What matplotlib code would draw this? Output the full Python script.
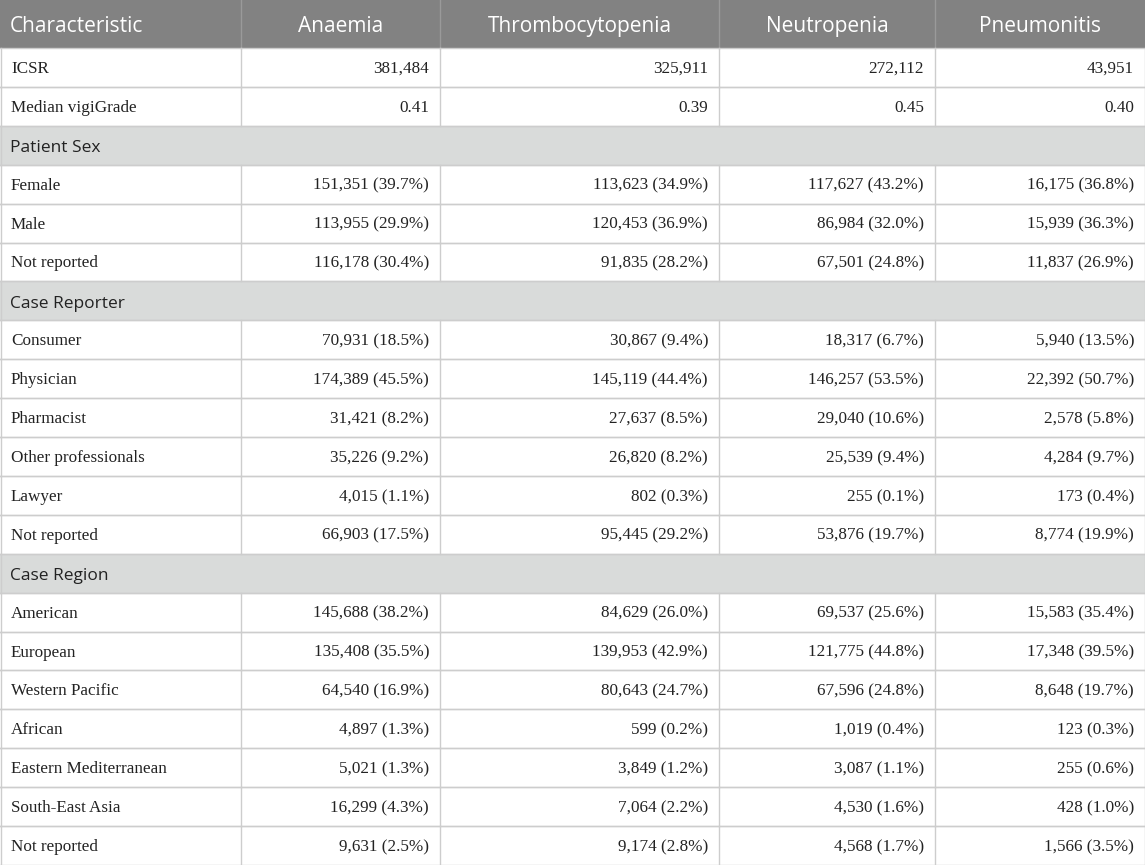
import matplotlib.pyplot as plt
from matplotlib.patches import Rectangle

columns = ["Characteristic", "Anaemia", "Thrombocytopenia", "Neutropenia", "Pneumonitis"]

# each row: label, then one cell per column; None marks a section heading
rows = [
    ("ICSR", ["381,484", "325,911", "272,112", "43,951"]),
    ("Median vigiGrade", ["0.41", "0.39", "0.45", "0.40"]),
    ("Patient Sex", None),
    ("Female", ["151,351 (39.7%)", "113,623 (34.9%)", "117,627 (43.2%)", "16,175 (36.8%)"]),
    ("Male", ["113,955 (29.9%)", "120,453 (36.9%)", "86,984 (32.0%)", "15,939 (36.3%)"]),
    ("Not reported", ["116,178 (30.4%)", "91,835 (28.2%)", "67,501 (24.8%)", "11,837 (26.9%)"]),
    ("Case Reporter", None),
    ("Consumer", ["70,931 (18.5%)", "30,867 (9.4%)", "18,317 (6.7%)", "5,940 (13.5%)"]),
    ("Physician", ["174,389 (45.5%)", "145,119 (44.4%)", "146,257 (53.5%)", "22,392 (50.7%)"]),
    ("Pharmacist", ["31,421 (8.2%)", "27,637 (8.5%)", "29,040 (10.6%)", "2,578 (5.8%)"]),
    ("Other professionals", ["35,226 (9.2%)", "26,820 (8.2%)", "25,539 (9.4%)", "4,284 (9.7%)"]),
    ("Lawyer", ["4,015 (1.1%)", "802 (0.3%)", "255 (0.1%)", "173 (0.4%)"]),
    ("Not reported", ["66,903 (17.5%)", "95,445 (29.2%)", "53,876 (19.7%)", "8,774 (19.9%)"]),
    ("Case Region", None),
    ("American", ["145,688 (38.2%)", "84,629 (26.0%)", "69,537 (25.6%)", "15,583 (35.4%)"]),
    ("European", ["135,408 (35.5%)", "139,953 (42.9%)", "121,775 (44.8%)", "17,348 (39.5%)"]),
    ("Western Pacific", ["64,540 (16.9%)", "80,643 (24.7%)", "67,596 (24.8%)", "8,648 (19.7%)"]),
    ("African", ["4,897 (1.3%)", "599 (0.2%)", "1,019 (0.4%)", "123 (0.3%)"]),
    ("Eastern Mediterranean", ["5,021 (1.3%)", "3,849 (1.2%)", "3,087 (1.1%)", "255 (0.6%)"]),
    ("South-East Asia", ["16,299 (4.3%)", "7,064 (2.2%)", "4,530 (1.6%)", "428 (1.0%)"]),
    ("Not reported", ["9,631 (2.5%)", "9,174 (2.8%)", "4,568 (1.7%)", "1,566 (3.5%)"]),
]

W, H = 1145, 865
col_edges = [0, 241, 440, 719, 935, 1145]
header_h = 48
row_h = (H - header_h) / len(rows)
pad = 11

header_bg = "#828282"
section_bg = "#d9dbda"
line_col = "#cdcdcd"
text_col = "#222222"
serif = ["Liberation Serif", "DejaVu Serif"]
sans = ["Open Sans", "DejaVu Sans"]

fig = plt.figure(figsize=(W / 100, H / 100), dpi=100)
ax = fig.add_axes([0, 0, 1, 1])
ax.set_xlim(0, W)
ax.set_ylim(H, 0)
ax.axis("off")

# header, text placed on a common baseline
ax.add_patch(Rectangle((0, 0), W, header_h, facecolor=header_bg, edgecolor="none"))
base = header_h / 2 + 8
for i, name in enumerate(columns):
    x0, x1 = col_edges[i], col_edges[i + 1]
    if i == 0:
        ax.text(x0 + pad - 1, base, name, ha="left", va="baseline",
                color="white", fontsize=15, family=sans)
    else:
        ax.text((x0 + x1) / 2, base, name, ha="center", va="baseline",
                color="white", fontsize=15, family=sans)
for xe in col_edges[1:-1]:
    ax.plot([xe, xe], [0, header_h], color="#9a9a9a", lw=1)

for r, (label, cells) in enumerate(rows):
    y0 = header_h + r * row_h
    yc = y0 + row_h / 2
    if cells is None:
        ax.add_patch(Rectangle((0, y0), W, row_h, facecolor=section_bg, edgecolor="none"))
        ax.text(pad - 1, yc + 7, label, ha="left", va="baseline", fontsize=12.5,
                family=sans, color=text_col)
    else:
        ax.text(pad, yc + 5.5, label, ha="left", va="baseline", fontsize=12.3,
                family=serif, color=text_col)
        for j, val in enumerate(cells):
            ax.text(col_edges[j + 2] - pad, yc + 5.5, val, ha="right", va="baseline",
                    fontsize=12.3, family=serif, color=text_col)
        for xe in col_edges[1:-1]:
            ax.plot([xe, xe], [y0, y0 + row_h], color=line_col, lw=1.0)
    ax.plot([0, W], [y0 + row_h, y0 + row_h], color=line_col, lw=1.0)
    ax.plot([0, W], [y0, y0], color=line_col, lw=1.0)

ax.plot([0.5, 0.5], [header_h, H], color=line_col, lw=1.0)
ax.plot([W - 0.5, W - 0.5], [header_h, H], color=line_col, lw=1.0)

fig.savefig("out.png", dpi=100)
